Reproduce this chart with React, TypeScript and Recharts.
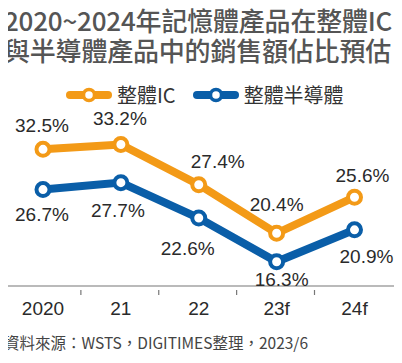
import { LineChart, Line, XAxis, YAxis, Legend, LabelList } from "recharts";

// 資料（%）
const years = ["2020", "21", "22", "23f", "24f"];
const icShare = [32.5, 33.2, 27.4, 20.4, 25.6];
const semiShare = [26.7, 27.7, 22.6, 16.3, 20.9];

const ORANGE = "#F39A17";
const BLUE = "#0A5EA8";
const CJK = "'Noto Sans CJK TC', 'Liberation Sans', sans-serif";
const NUM = "'Liberation Sans', Arial, sans-serif";

// 標籤相對於資料點的位移
const icLabelOffsets = [[-1, -24], [-1, -26], [19, -23], [0, -29], [8, -22]];
const semiLabelOffsets = [[-1, 25], [-3, 28], [-11, 30], [5, 18], [12, 27]];

const data = years.map((y, i) => ({ year: y, ic: icShare[i], semi: semiShare[i] }));

function YearTick(props: any) {
  const { x, y, payload, index } = props;
  const last = index === years.length - 1;
  return (
    <g>
      <line x1={x - 40} x2={x - 40} y1={y - 4} y2={y + 1} stroke="#777" strokeWidth={1.2} />
      {last && <line x1={x + 42.5} x2={x + 42.5} y1={y - 4} y2={y + 1} stroke="#777" strokeWidth={1.2} />}
      <text x={x} y={y + 14} textAnchor="middle" dominantBaseline="central"
        fontFamily={NUM} fontSize={19} fill="#2a2a2a">
        {payload.value}
      </text>
    </g>
  );
}

function makeLabel(offsets: number[][]) {
  return (props: any) => {
    const { x, y, value, index } = props;
    const [dx, dy] = offsets[index];
    return (
      <text x={x + dx} y={y + dy} textAnchor="middle" dominantBaseline="central"
        fontFamily={NUM} fontSize={19} fill="#2a2a2a">
        {value.toFixed(1)}%
      </text>
    );
  };
}

function LegendIcon({ color }: { color: string }) {
  return (
    <svg width={46} height={16} style={{ display: "block" }}>
      <line x1={4} x2={42} y1={8} y2={8} stroke={color} strokeWidth={8} strokeLinecap="round" />
      <circle cx={23} cy={8} r={5.5} fill="#fff" stroke={color} strokeWidth={3.5} />
    </svg>
  );
}

function ChartLegend() {
  const items = [
    { label: "整體IC", color: ORANGE },
    { label: "整體半導體", color: BLUE },
  ];
  return (
    <div style={{ display: "flex", alignItems: "center", paddingLeft: 66 }}>
      {items.map((it, i) => (
        <div key={it.label} style={{ display: "flex", alignItems: "center", marginRight: i === 0 ? 17 : 0 }}>
          <LegendIcon color={it.color} />
          <span style={{ fontFamily: CJK, fontSize: 20, color: "#333", marginLeft: 5, lineHeight: "22px" }}>
            {it.label}
          </span>
        </div>
      ))}
    </div>
  );
}

export default function App() {
  return (
    <div style={{ position: "relative", width: 402, height: 363, margin: -8, background: "#fff", overflow: "hidden" }}>
      <div style={{ position: "absolute", top: 0, left: 0, width: 402, height: 3, background: "#F08C00" }} />
      <div style={{
        position: "absolute", top: 5, left: 4, width: 400, fontFamily: CJK, fontSize: 26,
        fontWeight: 500, color: "#555", lineHeight: "30px", letterSpacing: -0.2, whiteSpace: "nowrap",
      }}>
        <div>2020~2024年記憶體產品在整體IC</div>
        <div>與半導體產品中的銷售額佔比預估</div>
      </div>

      <div style={{ position: "absolute", top: 0, left: 0 }}>
        <LineChart width={402} height={363} data={data} margin={{ top: 132, right: 5, bottom: 25, left: 3.5 }}>
          <XAxis
            dataKey="year"
            padding={{ left: 39.5, right: 42.5 }}
            axisLine={{ stroke: "#777", strokeWidth: 1.2 }}
            tickLine={false}
            tick={<YearTick />}
            height={30}
            interval={0}
          />
          <YAxis hide domain={[12.8, 35]} />
          <Legend
            content={<ChartLegend />}
            wrapperStyle={{ position: "absolute", top: 84, left: 0, width: 402 }}
          />
          <Line dataKey="ic" name="整體IC" stroke={ORANGE} strokeWidth={8} isAnimationActive={false}
            dot={{ r: 6.5, fill: "#fff", stroke: ORANGE, strokeWidth: 4 }} activeDot={false}>
            <LabelList dataKey="ic" content={makeLabel(icLabelOffsets)} />
          </Line>
          <Line dataKey="semi" name="整體半導體" stroke={BLUE} strokeWidth={8} isAnimationActive={false}
            dot={{ r: 6.5, fill: "#fff", stroke: BLUE, strokeWidth: 4 }} activeDot={false}>
            <LabelList dataKey="semi" content={makeLabel(semiLabelOffsets)} />
          </Line>
        </LineChart>
      </div>

      <div style={{
        position: "absolute", top: 333, left: 4, fontFamily: CJK, fontSize: 15.5, color: "#444",
        lineHeight: "19px", whiteSpace: "nowrap",
      }}>
        資料來源：WSTS，DIGITIMES整理，2023/6
      </div>
      <div style={{ position: "absolute", top: 360, left: 0, width: 402, height: 2, background: "#F39A17" }} />
    </div>
  );
}
